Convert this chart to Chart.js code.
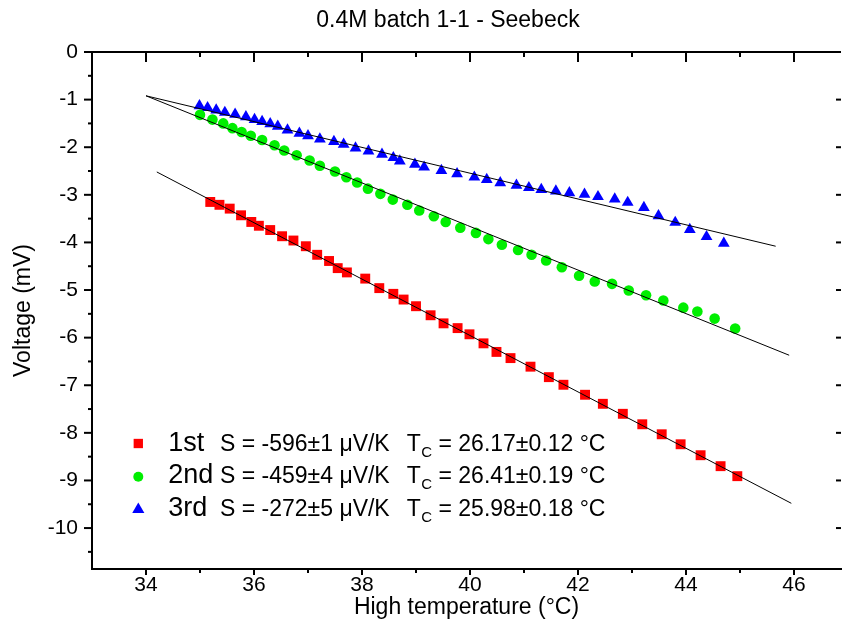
<!DOCTYPE html>
<html><head><meta charset="utf-8">
<script src="https://cdn.jsdelivr.net/npm/chart.js@4.4.1/dist/chart.umd.min.js"></script>
<style>html,body{margin:0;padding:0;background:#fff}#wrap{width:848px;height:629px}</style>
</head><body><div id="wrap"><canvas id="c" width="848" height="629"></canvas></div>
<script>
const chartTitle = '0.4M batch 1-1 - Seebeck';
const xTitle = 'High temperature (°C)';
const yTitle = 'Voltage (mV)';
const xTicks = [34, 36, 38, 40, 42, 44, 46];
const xMinorTicks = [35, 37, 39, 41, 43, 45];
const yTicks = [0, -1, -2, -3, -4, -5, -6, -7, -8, -9, -10];
const yMinorTicks = [-0.5, -1.5, -2.5, -3.5, -4.5, -5.5, -6.5, -7.5, -8.5, -9.5, -10.5];

const seriesNames = ['1st', '2nd', '3rd'];
const seebeck = ['-596±1', '-459±4', '-272±5'];
const tcold = ['26.17±0.12', '26.41±0.19', '25.98±0.18'];

const temp1 = [35.19,35.36,35.55,35.76,35.95,36.09,36.30,36.52,36.73,36.96,37.17,37.39,37.55,37.72,38.06,38.32,38.58,38.77,39.00,39.27,39.51,39.77,39.99,40.25,40.49,40.75,41.12,41.46,41.73,42.13,42.46,42.83,43.19,43.55,43.90,44.27,44.64,44.95];
const volt1 = [-3.15,-3.21,-3.29,-3.43,-3.57,-3.65,-3.74,-3.87,-3.96,-4.08,-4.26,-4.39,-4.54,-4.63,-4.76,-4.96,-5.08,-5.20,-5.34,-5.53,-5.70,-5.80,-5.93,-6.12,-6.30,-6.43,-6.61,-6.83,-6.99,-7.20,-7.39,-7.60,-7.82,-8.03,-8.24,-8.47,-8.70,-8.91];

const temp2 = [35.00,35.23,35.43,35.60,35.77,35.94,36.15,36.38,36.56,36.79,37.03,37.22,37.50,37.71,37.91,38.11,38.34,38.57,38.84,39.06,39.33,39.55,39.82,40.11,40.34,40.59,40.89,41.14,41.41,41.70,42.02,42.31,42.63,42.94,43.26,43.58,43.95,44.21,44.53,44.91];
const volt2 = [-1.32,-1.42,-1.50,-1.60,-1.68,-1.76,-1.85,-1.96,-2.07,-2.17,-2.28,-2.39,-2.51,-2.63,-2.74,-2.87,-2.98,-3.10,-3.21,-3.33,-3.45,-3.57,-3.69,-3.80,-3.93,-4.05,-4.16,-4.26,-4.38,-4.52,-4.70,-4.82,-4.87,-5.01,-5.11,-5.22,-5.37,-5.45,-5.60,-5.81];

const temp3 = [34.99,35.14,35.30,35.46,35.65,35.85,36.01,36.15,36.30,36.44,36.62,36.84,37.00,37.22,37.48,37.66,37.88,38.12,38.37,38.58,38.70,38.98,39.15,39.47,39.76,40.08,40.31,40.56,40.86,41.09,41.32,41.59,41.84,42.12,42.37,42.68,42.92,43.22,43.49,43.80,44.07,44.38,44.70];
const volt3 = [-1.13,-1.17,-1.22,-1.27,-1.31,-1.36,-1.42,-1.46,-1.51,-1.56,-1.64,-1.71,-1.76,-1.83,-1.88,-1.94,-2.02,-2.08,-2.15,-2.22,-2.29,-2.36,-2.42,-2.49,-2.56,-2.63,-2.68,-2.75,-2.80,-2.85,-2.89,-2.92,-2.96,-2.99,-3.04,-3.09,-3.16,-3.27,-3.44,-3.58,-3.73,-3.88,-4.02];

const fit1T = [34.2, 45.95];  const fit1V = [-2.52, -9.48];
const fit2T = [34.0, 45.91];  const fit2V = [-0.92, -6.37];
const fit3T = [34.0, 45.66];  const fit3V = [-0.92, -4.08];

const FONT = '"Liberation Sans", Arial, Helvetica, sans-serif';
const colors = ['#ff0000', '#00ee00', '#0000ff'];
const styles = ['rect', 'circle', 'triangle'];

const pts = (t, v) => t.map((x, i) => ({ x: x, y: v[i] }));

const fitDs = (t, v) => ({
  data: pts(t, v), showLine: true, borderColor: '#000', borderWidth: 1,
  pointRadius: 0, fill: false, order: 0
});
const markDs = (t, v, i, r) => ({
  data: pts(t, v), showLine: false, pointStyle: styles[i], pointRadius: r,
  backgroundColor: colors[i], borderColor: colors[i], borderWidth: 0, order: 1
});

const framePlugin = {
  id: 'frame',
  afterDraw(chart) {
    const { ctx, chartArea: a, scales: { x, y } } = chart;
    ctx.save();
    ctx.strokeStyle = '#000';
    ctx.lineWidth = 2;
    const line = (x1, y1, x2, y2) => { ctx.beginPath(); ctx.moveTo(x1, y1); ctx.lineTo(x2, y2); ctx.stroke(); };
    line(a.left - 1, a.top, a.right, a.top);
    xTicks.forEach(v => { const p = x.getPixelForValue(v); line(p, a.bottom, p, a.bottom + 6); line(p, a.top, p, a.top + 10); });
    xMinorTicks.forEach(v => { const p = x.getPixelForValue(v); line(p, a.bottom, p, a.bottom + 4); line(p, a.top, p, a.top + 5); });
    yTicks.forEach(v => { const p = y.getPixelForValue(v); line(a.left - 8, p, a.left, p); line(a.right - 5, p, a.right, p); });
    yMinorTicks.forEach(v => { const p = y.getPixelForValue(v); line(a.left - 4, p, a.left, p); });

    ctx.fillStyle = '#000';
    ctx.textBaseline = 'alphabetic';
    ctx.textAlign = 'center';
    ctx.font = '23px ' + FONT;
    ctx.fillText(chartTitle, 448, 26.5);

    // legend
    const symY = [443.5, 476.7, 509.5];
    const baseY = [450.7, 483.2, 515.5];
    const symR = [6.6, 5, 7];
    ctx.textAlign = 'left';
    for (let i = 0; i < 3; i++) {
      ctx.fillStyle = colors[i];
      Chart.helpers.drawPoint(ctx, { pointStyle: styles[i], radius: symR[i], rotation: 0, borderWidth: 0 }, 138.3, symY[i]);
      ctx.fillStyle = '#000';
      ctx.font = '27px ' + FONT;
      ctx.fillText(seriesNames[i], 168.3, baseY[i]);
      ctx.font = '23px ' + FONT;
      ctx.fillText('S = ' + seebeck[i] + ' μV/K', 220, baseY[i]);
      ctx.fillText('T', 406.7, baseY[i]);
      const tw = ctx.measureText('T').width;
      ctx.font = '15px ' + FONT;
      ctx.fillText('C', 406.7 + tw + 0.5, baseY[i] + 6);
      const cw = ctx.measureText('C').width;
      ctx.font = '23px ' + FONT;
      ctx.fillText(' = ' + tcold[i] + ' °C', 406.7 + tw + cw + 0.5, baseY[i]);
    }
    ctx.restore();
  }
};

new Chart(document.getElementById('c'), {
  type: 'scatter',
  data: {
    datasets: [
      fitDs(fit1T, fit1V), fitDs(fit2T, fit2V), fitDs(fit3T, fit3V),
      markDs(temp1, volt1, 0, 7), markDs(temp2, volt2, 1, 5.3), markDs(temp3, volt3, 2, 6.8)
    ]
  },
  options: {
    responsive: false, animation: false, devicePixelRatio: 1,
    layout: { padding: { top: 52, right: 0, bottom: 0, left: 0 } },
    plugins: { legend: { display: false }, tooltip: { enabled: false }, title: { display: false } },
    scales: {
      x: {
        type: 'linear', position: 'bottom', min: 33, max: 46.87,
        afterBuildTicks: s => { s.ticks = xTicks.map(v => ({ value: v })); },
        afterFit: s => { s.height = 60; },
        grid: { display: false, drawTicks: false },
        border: { display: true, color: '#000', width: 2 },
        ticks: { color: '#000', font: { family: FONT, size: 21 }, padding: 4, maxRotation: 0, autoSkip: false },
        title: { display: true, text: xTitle, color: '#000', font: { family: FONT, size: 23 }, padding: { top: 0, bottom: 8 } }
      },
      y: {
        type: 'linear', position: 'left', min: -10.86, max: 0,
        afterBuildTicks: s => { s.ticks = yTicks.map(v => ({ value: v })); },
        afterFit: s => { s.width = 92; },
        grid: { display: false, drawTicks: false },
        border: { display: true, color: '#000', width: 2 },
        ticks: { color: '#000', font: { family: FONT, size: 21 }, padding: 14, autoSkip: false },
        title: { display: true, text: yTitle, color: '#000', font: { family: FONT, size: 23 }, padding: { top: 10, bottom: 0 } }
      }
    }
  },
  plugins: [framePlugin]
});
</script>
</body></html>
